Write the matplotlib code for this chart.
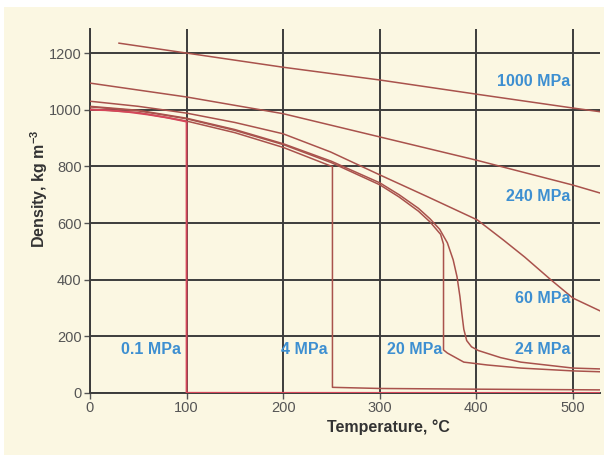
import matplotlib
matplotlib.use("Agg")
import matplotlib.pyplot as plt
from matplotlib.patches import Rectangle

plt.rcParams['font.family'] = ['Liberation Sans', 'DejaVu Sans']
plt.rcParams['mathtext.fontset'] = 'custom'
plt.rcParams['mathtext.rm'] = 'Liberation Sans:bold'
plt.rcParams['mathtext.default'] = 'rm'

# density of water (kg m-3) against temperature (degC) at several pressures
t_1000 = [30, 100, 200, 300, 400, 500, 528]
d_1000 = [1235, 1200, 1150, 1105, 1055, 1006, 993]

t_240 = [0, 100, 200, 300, 400, 500, 528]
d_240 = [1094, 1045, 986, 904, 822, 734, 706]

t_60 = [0, 50, 100, 150, 200, 249, 300, 350, 401, 428, 450, 477, 500, 528]
d_60 = [1030, 1012, 988, 955, 915, 851, 770, 692, 611, 540, 480, 400, 335, 290]

t_24 = [0, 50, 100, 150, 200, 250, 300, 320, 340, 352, 362, 370, 376, 380, 383, 385, 387,
        390, 395, 402, 425, 446, 500, 528]
d_24 = [1012, 998, 970, 930, 880, 818, 742, 700, 652, 615, 578, 530, 470, 410, 340, 280, 225,
        185, 163, 150, 125, 109, 88, 85]

t_20 = [0, 50, 100, 150, 200, 250, 300, 320, 340, 352, 363, 366, 366, 370, 387, 411, 446, 500, 528]
d_20 = [1010, 996, 968, 927, 877, 813, 735, 692, 642, 604, 560, 525, 152, 141, 109, 99, 88, 78, 75]

t_4 = [0, 50, 100, 150, 200, 251, 251, 300, 400, 500, 528]
d_4 = [1002, 990, 960, 919, 867, 799, 20, 16, 13.5, 11.6, 11]

t_01 = [0, 20, 40, 60, 80, 100, 100, 200, 300, 400, 528]
d_01 = [1000, 998, 992, 983, 972, 958, 0.6, 0.46, 0.38, 0.32, 0.27]

labels = ['1000 MPa', '240 MPa', '60 MPa', '24 MPa', '20 MPa', '4 MPa', '0.1 MPa']
label_x = [497, 497, 497, 497, 336, 222, 63]
label_y = [1101, 692, 332, 155, 155, 155, 152]

xticks = [0, 100, 200, 300, 400, 500]
yticks = [0, 200, 400, 600, 800, 1000, 1200]

cream = '#fbf7e2'
grid_c = '#3c3c3c'
curve_c = '#a9524c'

fig = plt.figure(figsize=(6.04, 4.55), dpi=100)
fig.patch.set_facecolor('white')
fig.add_artist(Rectangle((4 / 604, 0), 1, (455 - 7) / 455, transform=fig.transFigure,
                         facecolor=cream, edgecolor='none', zorder=-10))
ax = fig.add_axes([90 / 604, 1 - 393 / 455, 510 / 604, 364 / 455])
ax.set_facecolor(cream)

for t, d in [(t_1000, d_1000), (t_240, d_240), (t_60, d_60), (t_24, d_24), (t_20, d_20), (t_4, d_4)]:
    ax.plot(t, d, color=curve_c, lw=1.1, zorder=3)
ax.plot(t_01, d_01, color='#d5475a', lw=1.4, zorder=3)

for lab, x, y in zip(labels, label_x, label_y):
    ha = 'right' if x > 400 else 'center'
    ax.text(x, y, lab, color='#3d8fd1', fontsize=11.5, fontweight='bold',
            ha=ha, va='center', zorder=4)

ax.set_xlim(0, 528)
ax.set_ylim(0, 1285)
ax.set_xticks(xticks)
ax.set_yticks(yticks)
ax.grid(True, color=grid_c, lw=1.4, zorder=1)
ax.set_axisbelow(True)
for s in ['top', 'right']:
    ax.spines[s].set_visible(False)
for s in ['left', 'bottom']:
    ax.spines[s].set_color(grid_c)
    ax.spines[s].set_linewidth(1.4)
ax.tick_params(colors='#555555', labelsize=10.5, length=4, width=1, pad=2)

ax.set_xlabel('Temperature, °C', fontsize=11.5, fontweight='bold', color='#333333')
ax.xaxis.set_label_coords((388 - 90) / 510, -0.072)
ax.set_ylabel('Density, kg m$^{-3}$', fontsize=11.5, fontweight='bold', color='#333333')
ax.yaxis.set_label_coords(-0.078, 0.56)

fig.savefig('out.png', dpi=100, facecolor=fig.get_facecolor())
